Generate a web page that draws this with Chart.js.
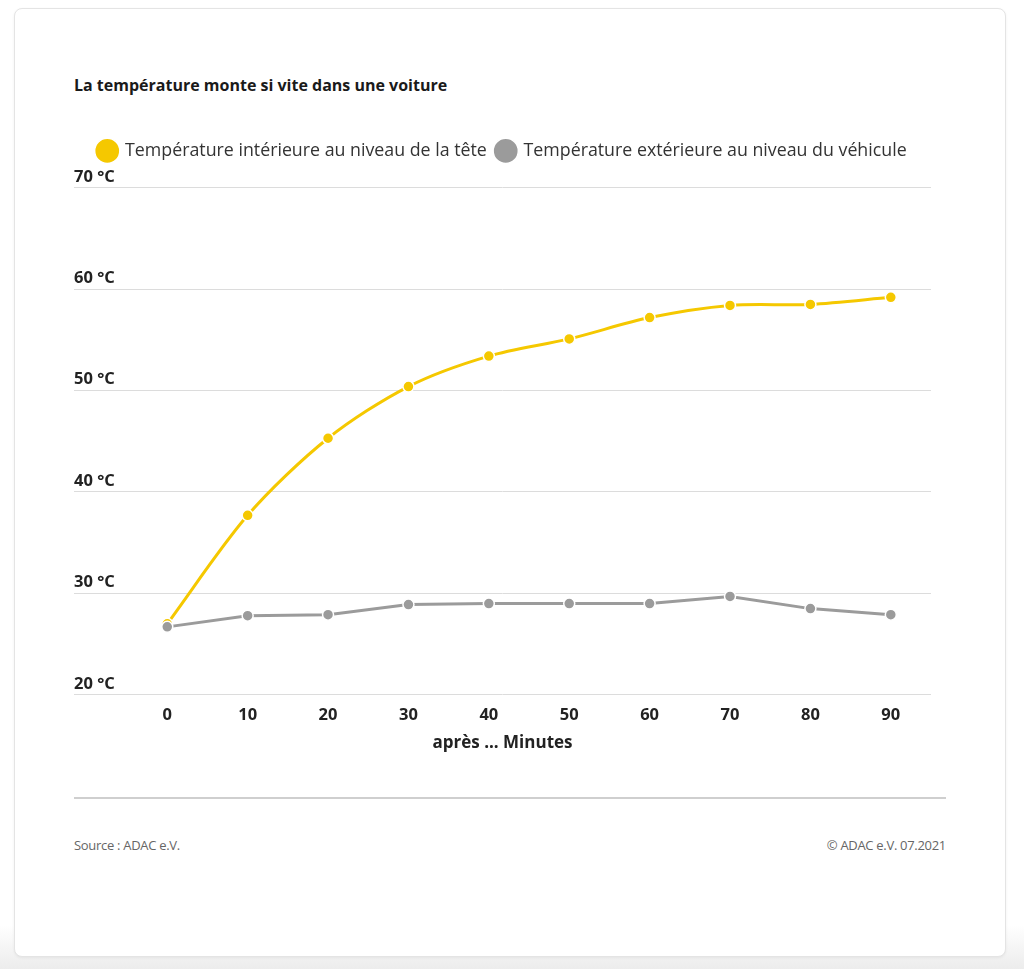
<!DOCTYPE html>
<html lang="fr">
<head>
<meta charset="utf-8">
<script src="https://cdn.jsdelivr.net/npm/chart.js@4.4.1/dist/chart.umd.min.js"></script>
<style>
  html, body { margin: 0; padding: 0; }
  body {
    width: 1024px; height: 969px; overflow: hidden;
    background: linear-gradient(to bottom, #fff 0, #fff 925px, #ececec 969px);
    font-family: "Open Sans", "Noto Sans", sans-serif;
  }
  .card {
    position: absolute; left: 14px; top: 8px; width: 992px; height: 949px;
    box-sizing: border-box; background: #fff;
    border: 1px solid #e4e4e4; border-radius: 8px;
    box-shadow: 0 1px 3px rgba(0,0,0,0.06);
  }
  .title {
    position: absolute; left: 74px; top: 74px;
    font-size: 16px; font-weight: 700; color: #1a1a1a;
  }
  .chart-wrap { position: absolute; left: 60px; top: 132px; width: 886px; height: 625px; }
  .rule { position: absolute; left: 74px; top: 797px; width: 872px; height: 2px; background: #cfcfcf; }
  .foot { position: absolute; top: 836px; font-size: 13px; color: #666; letter-spacing: -0.3px; }
</style>
</head>
<body>
<div class="card"></div>
<div class="title">La température monte si vite dans une voiture</div>
<div class="chart-wrap"><canvas id="c"></canvas></div>
<div class="rule"></div>
<div class="foot" style="left:74px">Source : ADAC e.V.</div>
<div class="foot" style="right:78px">© ADAC e.V. 07.2021</div>
<script>
// minutes after closing the car
const minutes = [0, 10, 20, 30, 40, 50, 60, 70, 80, 90];
const insideTemp = [27.0, 37.7, 45.3, 50.4, 53.4, 55.1, 57.2, 58.4, 58.5, 59.2];
const outsideTemp = [26.7, 27.8, 27.9, 28.9, 29.0, 29.0, 29.0, 29.7, 28.5, 27.9];
const yTicks = [20, 30, 40, 50, 60, 70];

const YELLOW = '#f5c800';
const GREY = '#9b9b9b';

const legendGap = {
  id: 'legendGap',
  beforeInit(chart) {
    const fit = chart.legend.fit;
    chart.legend.fit = function () {
      fit.bind(chart.legend)();
      this.height += 18;
    };
  }
};

new Chart(document.getElementById('c'), {
  type: 'line',
  data: {
    datasets: [
      {
        label: 'Température intérieure au niveau de la tête',
        data: minutes.map((m, i) => ({ x: m, y: insideTemp[i] })),
        borderColor: YELLOW, backgroundColor: YELLOW,
        borderWidth: 3, pointRadius: 5.5, pointBorderColor: '#fff', pointBorderWidth: 1.5,
        tension: 0.3, order: 1,
      },
      {
        label: 'Température extérieure au niveau du véhicule',
        data: minutes.map((m, i) => ({ x: m, y: outsideTemp[i] })),
        borderColor: GREY, backgroundColor: GREY,
        borderWidth: 3, pointRadius: 5.5, pointBorderColor: '#fff', pointBorderWidth: 1.5,
        tension: 0, order: 0,
      },
    ],
  },
  options: {
    animation: false,
    responsive: true,
    maintainAspectRatio: false,
    layout: { padding: { left: 14, right: 15 } },
    plugins: {
      legend: {
        labels: {
          usePointStyle: true, pointStyle: 'circle', boxWidth: 18, boxHeight: 18,
          color: '#333', font: { family: 'Open Sans', size: 17.8 }, padding: 10,
          sort: (a, b) => a.datasetIndex - b.datasetIndex,
        },
      },
      tooltip: { enabled: false },
    },
    scales: {
      x: {
        type: 'linear', min: -11.6, max: 95,
        afterBuildTicks: (s) => { s.ticks = minutes.map(v => ({ value: v })); },
        grid: { display: false },
        border: { display: false },
        ticks: { color: '#222', font: { family: 'Open Sans', size: 16.5, weight: 'bold' }, padding: 3 },
        title: { display: true, text: 'après ... Minutes', color: '#222', font: { family: 'Open Sans', size: 17, weight: 'bold' }, padding: { top: 4 } },
      },
      y: {
        min: 20, max: 70,
        afterBuildTicks: (s) => { s.ticks = yTicks.map(v => ({ value: v })); },
        border: { display: false },
        grid: { color: '#dcdcdc', drawTicks: false },
        ticks: {
          mirror: true, padding: 0, labelOffset: -11,
          color: '#222', font: { family: 'Open Sans', size: 16.5, weight: 'bold' },
          callback: (v) => v + ' °C',
        },
      },
    },
  },
  plugins: [legendGap],
});
</script>
</body>
</html>
